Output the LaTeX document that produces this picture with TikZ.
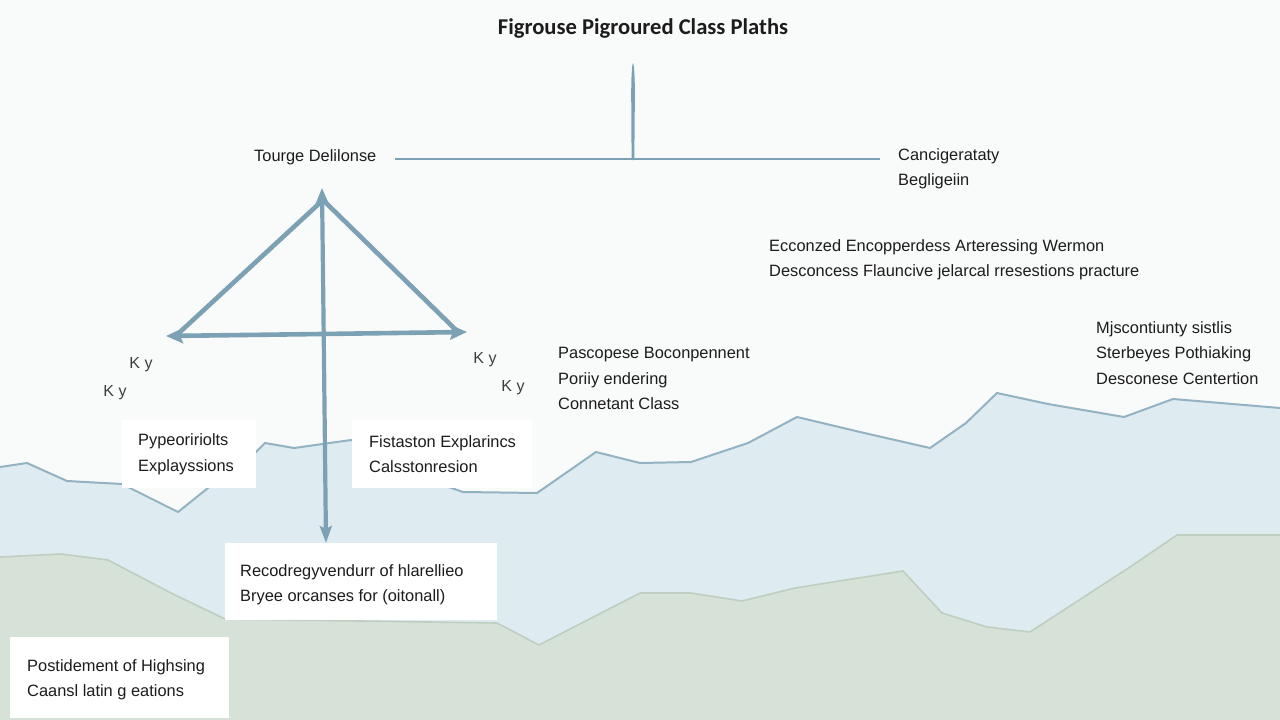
\documentclass[tikz,border=0pt]{standalone}
\usepackage{fontspec}
\setmainfont{Liberation Sans}
\newfontfamily\titlefont{Carlito}
\usetikzlibrary{arrows.meta}
\definecolor{bgc}{HTML}{F9FAFA}
\definecolor{bluefill}{HTML}{DEEBF0}
\definecolor{blueline}{HTML}{93B2C2}
\definecolor{greenfill}{HTML}{D6E1D7}
\definecolor{greenline}{HTML}{BFCEC1}
\definecolor{arrowc}{HTML}{7DA1B4}
\definecolor{ink}{HTML}{1C1C1C}
\tikzset{
  txt/.style={font=\fontsize{16.4}{25.5}\selectfont, text=ink, inner sep=0pt, align=left, anchor=west},
  kylab/.style={font=\fontsize{16}{18}\selectfont, text=ink!85, inner sep=0pt},
  whitebox/.style={fill=white, draw=none, inner sep=0pt, anchor=north west},
  heavy/.style={draw=arrowc, line width=4.6pt, line cap=round, line join=round},
  tipc/.style={-{Stealth[length=17pt,width=15pt,inset=3pt]}},
}
\begin{document}
\begin{tikzpicture}[x=1pt,y=-1pt]
\useasboundingbox (0,0) rectangle (1280,720);
\fill[bgc] (0,0) rectangle (1280,720);
% blue band
\fill[bluefill] (0,467) -- (27,463) -- (67,481) -- (122,484) -- (178,512) -- (208,488) -- (256,452) -- (265,443) -- (294,448) -- (351,440) -- (440,484) -- (463,492) -- (537,493) -- (596,452) -- (640,463) -- (691,462) -- (748,443) -- (797,417) -- (860,432) -- (930,448) -- (966,423) -- (997,393) -- (1048,404) -- (1124,417) -- (1173,399) -- (1280,408) -- (1280,720) -- (0,720) -- cycle;
\draw[blueline, line width=2pt, line join=round] (0,467) -- (27,463) -- (67,481) -- (122,484) -- (178,512) -- (208,488) -- (256,452) -- (265,443) -- (294,448) -- (351,440) -- (440,484) -- (463,492) -- (537,493) -- (596,452) -- (640,463) -- (691,462) -- (748,443) -- (797,417) -- (860,432) -- (930,448) -- (966,423) -- (997,393) -- (1048,404) -- (1124,417) -- (1173,399) -- (1280,408);
% green band
\fill[greenfill] (0,557) -- (61,554) -- (108,560) -- (171,593) -- (225,619) -- (497,623) -- (539,645) -- (640,593) -- (691,593) -- (742,601) -- (795,588) -- (903,571) -- (942,613) -- (987,627) -- (1030,632) -- (1130,567) -- (1177,535) -- (1280,535) -- (1280,720) -- (0,720) -- cycle;
\draw[greenline, line width=1.6pt, line join=round] (0,557) -- (61,554) -- (108,560) -- (171,593) -- (225,619) -- (497,623) -- (539,645) -- (640,593) -- (691,593) -- (742,601) -- (795,588) -- (903,571) -- (942,613) -- (987,627) -- (1030,632) -- (1130,567) -- (1177,535) -- (1280,535);

% title
\node[font=\titlefont\bfseries\fontsize{22.6}{26}\selectfont, text=ink, inner sep=0pt] (title) at (643,28) {Figrouse Pigroured Class Plaths};

% top connector
\node[txt] (tourge) at (254,157) {Tourge Delilonse};
\node[txt] (canc) at (898,169) {Cancigerataty\\Begligeiin};
\coordinate (hl) at (395,159);
\coordinate (hr) at (880,159);
\coordinate (hm) at (633,160);
\draw[arrowc, line width=2.2pt] (hl) -- (hr);
\fill[arrowc] (631.6,160) -- (631.2,95) .. controls (631.2,72) and (632.4,63) .. (633,63) .. controls (633.6,63) and (634.9,72) .. (634.9,95) -- (634.3,160) -- cycle;

% other texts
\node[txt] (ecco) at (769,260) {Ecconzed Encopperdess Arteressing Wermon\\Desconcess Flauncive jelarcal rresestions practure};
\node[txt] (pasc) at (558,378.5) {Pascopese Boconpennent\\Poriiy endering\\Connetant Class};
\node[txt] (mjsc) at (1096,353) {Mjscontiunty sistlis\\Sterbeyes Pothiaking\\Desconese Centertion};

\node[kylab] (ky1) at (141,365) {K y};
\node[kylab] (ky2) at (115,393) {K y};
\node[kylab] (ky3) at (485,360) {K y};
\node[kylab] (ky4) at (513,388) {K y};

% boxes
\node[whitebox, minimum width=134pt, minimum height=68pt] (b1) at (122,420) {};
\node[txt] (b1t) at ([xshift=16pt]b1.west) {Pypeoririolts\\Explayssions};
\node[whitebox, minimum width=180pt, minimum height=68pt] (b2) at (352,420) {};
\node[txt] (b2t) at ([xshift=17pt]b2.west) {Fistaston Explarincs\\Calsstonresion};
\node[whitebox, minimum width=272pt, minimum height=77pt] (b3) at (225,543) {};
\node[txt] (b3t) at ([xshift=15pt,yshift=-3pt]b3.west) {Recodregyvendurr of hlarellieo\\Bryee orcanses for (oitonall)};
\node[whitebox, minimum width=219pt, minimum height=81pt] (b4) at (10,637) {};
\node[txt] (b4t) at ([xshift=17pt,yshift=-2pt]b4.west) {Postidement of Highsing\\Caansl latin g eations};

% triangle
\coordinate (apex) at (322,188);
\coordinate (lc) at (166,336);
\coordinate (rc) at (467,332);
\coordinate (bot) at (326,543);
\draw[heavy] (323,200) -- (180,332);
\draw[heavy] (323,200) -- (455,329);
\draw[heavy, tipc] (322,334) -- (lc);
\draw[heavy, tipc] (322,334) -- (rc);
\draw[draw=arrowc, line width=4.2pt, {Stealth[length=17pt,width=14pt,inset=3pt]}-{Stealth[length=17pt,width=12pt,inset=3pt]}] (apex) -- (324,360) -- (bot);
\end{tikzpicture}
\end{document}
